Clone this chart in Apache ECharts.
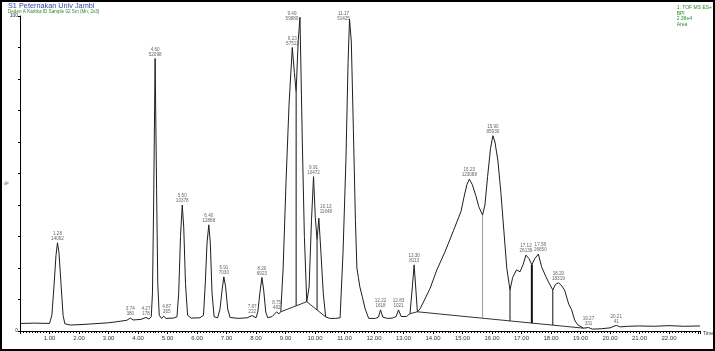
<!DOCTYPE html>
<html>
<head>
<meta charset="utf-8">
<script src="https://cdn.jsdelivr.net/npm/echarts@6/dist/echarts.min.js"></script>
<style>
  html, body { margin: 0; padding: 0; background: #fff; }
  #chart { width: 715px; height: 351px; }
</style>
</head>
<body>
<div id="chart"></div>
<script>
// BPI trace: retention time (min) and relative intensity (%)
const traceTime = [
  0.00, 0.50, 1.00, 1.08, 1.15, 1.22, 1.27, 1.32, 1.39, 1.46, 1.52, 1.70, 2.00, 2.50, 3.00, 3.40, 3.62, 3.74, 3.84, 4.10,
  4.27, 4.37, 4.45, 4.49, 4.53, 4.58, 4.63, 4.67, 4.72, 4.80, 4.87, 4.95, 5.20, 5.32, 5.38, 5.44, 5.50, 5.55, 5.61, 5.68,
  5.80, 6.10, 6.22, 6.28, 6.34, 6.40, 6.45, 6.51, 6.58, 6.70, 6.78, 6.85, 6.91, 6.97, 7.04, 7.12, 7.40, 7.70, 7.87, 8.00,
  8.06, 8.13, 8.20, 8.26, 8.33, 8.40, 8.55, 8.70, 8.77, 8.84, 8.92, 9.02, 9.12, 9.23, 9.30, 9.36, 9.43, 9.49, 9.53, 9.57,
  9.64, 9.72, 9.80, 9.88, 9.95, 10.01, 10.07, 10.13, 10.20, 10.28, 10.36, 10.50, 10.70, 10.85, 10.95, 11.05, 11.12, 11.17, 11.23, 11.30,
  11.37, 11.42, 11.47, 11.52, 11.60, 11.70, 11.82, 12.05, 12.15, 12.22, 12.30, 12.45, 12.62, 12.75, 12.83, 12.92, 13.10, 13.22, 13.30, 13.36,
  13.42, 13.47, 13.56, 13.90, 14.13, 14.40, 14.70, 14.95, 15.05, 15.15, 15.23, 15.33, 15.45, 15.55, 15.68, 15.76, 15.85, 15.95, 16.03, 16.10,
  16.20, 16.30, 16.40, 16.50, 16.61, 16.70, 16.83, 16.95, 17.05, 17.15, 17.25, 17.35, 17.45, 17.57, 17.68, 17.80, 17.88, 18.06, 18.15, 18.25,
  18.35, 18.46, 18.60, 18.70, 18.80, 18.90, 19.10, 19.27, 19.40, 19.70, 20.00, 20.21, 20.35, 20.60, 21.00, 21.50, 22.00, 22.50, 23.05
];
const traceInt = [
  2.4, 2.5, 2.4, 5, 14, 24, 28, 25, 15, 5, 2.3, 1.9, 2.0, 2.3, 2.6, 3.1, 3.4, 4.1, 3.5, 3.7,
  4.3, 3.8, 4.5, 12, 40, 86.5, 45, 15, 5, 4.0, 4.7, 4.0, 4.1, 4.5, 12, 30, 40, 33, 15, 5,
  4.1, 4.2, 5, 15, 28, 33.7, 28, 12, 4.5, 4.2, 7, 13, 17.2, 14, 7, 4.3, 4.0, 4.2, 4.9, 4.2,
  6, 12, 17, 13, 6, 4.2, 4.6, 6.1, 5.4, 6.1, 20, 48, 72, 90, 82, 76, 92, 99.6, 80, 60,
  30, 9.3, 14, 35, 49, 36, 29, 35.8, 25, 12, 4.5, 4.0, 4.0, 4.2, 25, 55, 85, 99, 92, 64,
  35, 20, 17, 14, 11, 7, 4.0, 4.0, 4.4, 6.7, 4.4, 4.0, 4.1, 4.6, 6.7, 4.6, 4.6, 5.5, 14, 21,
  13, 6.1, 7, 13.5, 19.4, 25, 32, 38, 42.5, 46.5, 48.2, 46.5, 43, 39.5, 36.8, 40, 49, 58, 62, 60,
  54, 44, 32, 20, 13, 17, 19.4, 18.8, 21, 24.1, 23, 21, 23, 24.4, 20.4, 17.8, 16.2, 13, 14.8, 15.3,
  14.5, 13, 8.5, 6.7, 3.5, 2.0, 0.9, 1.1, 0.6, 0.7, 1.0, 1.8, 1.3, 1.5, 1.6, 1.5, 1.7, 1.5, 1.6
];

// labelled peaks: retention time text, area, apex time and apex intensity
const peakRT = ["1.28", "3.74", "4.27", "4.60", "4.87", "5.50", "6.40", "6.91", "7.87", "8.20", "8.75", "9.23", "9.49",
  "9.91", "10.13", "11.17", "12.22", "12.83", "13.30", "15.23", "15.90", "17.12", "17.58", "18.20", "19.27", "20.21"];
const peakArea = [14062, 380, 178, 52098, 365, 10378, 12888, 7030, 222, 6923, 482, 57511, 59880,
  10472, 11648, 51425, 1618, 1021, 8113, 123088, 85930, 26139, 26650, 18319, 331, 41];
const peakTime = [1.27, 3.74, 4.27, 4.58, 4.87, 5.50, 6.40, 6.91, 7.87, 8.20, 8.70, 9.23, 9.49,
  9.95, 10.13, 11.17, 12.22, 12.83, 13.36, 15.23, 16.03, 17.15, 17.57, 18.25, 19.27, 20.21];
const peakTop = [28, 4.1, 4.3, 86.5, 4.7, 40, 33.7, 17.2, 4.9, 17, 6.1, 90, 99.6,
  49, 35.8, 99, 6.7, 6.7, 21, 48.2, 62, 24.1, 24.4, 15.3, 1.1, 1.8];

// integration baselines (time, intensity)
const baseLines = [
  [[8.84, 6.1], [9.72, 9.3], [10.36, 4.5]],
  [[13.22, 5.5], [13.47, 6.1]],
  [[13.47, 6.1], [19.10, 0.9]]
];
// drop lines between co-eluting peaks
const dropTime = [9.36, 10.07, 15.68, 16.61, 17.35, 18.06];
const dropTop = [76, 29, 36.8, 13, 21, 13];
const dropBottom = [8.0, 6.7, 4.1, 3.2, 2.5, 1.9];

const yTickLabels = { 0: "0", 100: "100" };

const font = "Liberation Sans";
const labelNudge = { "9.49": [-8, 5], "11.17": [-6, 4], "10.13": [7, -2], "17.58": [2, 0], "4.87": [3, 0] };

const chart = echarts.init(document.getElementById("chart"), null, { renderer: "canvas" });

const series = [
  {
    type: "line",
    data: traceTime.map((t, i) => [t, traceInt[i]]),
    showSymbol: false,
    lineStyle: { color: "#1e1e1e", width: 1 },
    z: 3
  }
];

baseLines.forEach((seg) => {
  series.push({
    type: "line",
    data: seg,
    showSymbol: false,
    lineStyle: { color: "#333", width: 1 },
    z: 2
  });
});

dropTime.forEach((t, i) => {
  series.push({
    type: "line",
    data: [[t, dropTop[i]], [t, dropBottom[i]]],
    showSymbol: false,
    lineStyle: {
      color: t === 15.68 ? "#999" : "#111",
      width: t === 17.35 ? 2 : 1
    },
    z: 2
  });
});

series.push({
  type: "scatter",
  symbolSize: 1,
  itemStyle: { color: "rgba(0,0,0,0)" },
  data: peakRT.map((rt, i) => ({
    value: [peakTime[i], peakTop[i]],
    label: { offset: labelNudge[rt] || [0, 0] },
    rt: rt,
    area: peakArea[i]
  })),
  label: {
    show: true,
    position: "top",
    distance: 1,
    fontFamily: font,
    fontSize: 4.6,
    lineHeight: 5,
    color: "#3a3a3a",
    align: "center",
    formatter: (p) => p.data.rt + "\n" + p.data.area
  },
  z: 4
});

const option = {
  animation: false,
  backgroundColor: "#fff",
  grid: { left: 20, right: 15, top: 16, bottom: 20, containLabel: false },
  xAxis: {
    type: "value",
    min: 0,
    max: 23.05,
    interval: 1,
    axisLine: { show: true, onZero: false, lineStyle: { color: "#000", width: 1 } },
    axisTick: { show: true, length: 3, lineStyle: { color: "#000" } },
    minorTick: { show: true, splitNumber: 10, length: 2, lineStyle: { color: "#000" } },
    splitLine: { show: false },
    axisLabel: {
      fontFamily: font,
      fontSize: 6,
      color: "#333",
      margin: 4,
      formatter: (v) => (v >= 1 && v <= 22 && Math.abs(v - Math.round(v)) < 1e-6 ? v.toFixed(2) : "")
    }
  },
  yAxis: {
    type: "value",
    min: 0,
    max: 100,
    interval: 10,
    axisLine: { show: true, lineStyle: { color: "#000", width: 1 } },
    axisTick: { show: true, length: 2, lineStyle: { color: "#000" } },
    splitLine: { show: false },
    axisLabel: {
      fontFamily: font,
      fontSize: 5,
      color: "#333",
      margin: 2,
      formatter: (v) => yTickLabels[v] || ""
    }
  },
  graphic: [
    {
      type: "rect",
      shape: { x: 1, y: 1, width: 713, height: 349 },
      style: { fill: "none", stroke: "#000", lineWidth: 2 },
      z: 100
    },
    {
      type: "text", left: 8, top: 2,
      style: { text: "S1 Peternakan Univ Jambi", fill: "#3344aa", fontFamily: font, fontSize: 7.3 }
    },
    {
      type: "text", left: 8, top: 9.5,
      style: { text: "Deden A Kartika ID Sample 02 Sm (Mn, 2x3)", fill: "#2a8a2a", fontFamily: font, fontSize: 4.6 }
    },
    {
      type: "text", right: 3, top: 5,
      style: { text: "1: TOF MS ES+\nBPI\n2.38e4\nArea", fill: "#2a8a2a", fontFamily: font, fontSize: 5, lineHeight: 5.6, align: "right" }
    },
    {
      type: "text", left: 3, top: 180, rotation: Math.PI / 4,
      style: { text: "%", fill: "#333", fontFamily: font, fontSize: 5 }
    },
    {
      type: "text", left: 703, top: 331,
      style: { text: "Time", fill: "#333", fontFamily: font, fontSize: 5 }
    }
  ],
  series: series
};

chart.setOption(option);
</script>
</body>
</html>
